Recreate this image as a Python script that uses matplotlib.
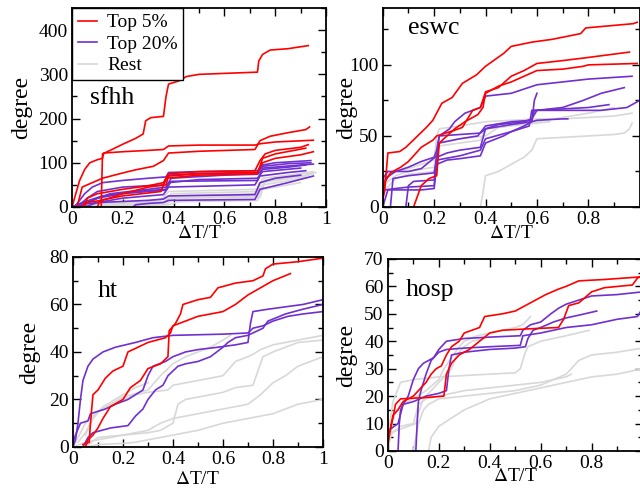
import numpy as np
import matplotlib
matplotlib.use('Agg')
import matplotlib.pyplot as plt
from matplotlib.ticker import MultipleLocator, FixedLocator, FixedFormatter

plt.rcParams['font.family'] = ['Liberation Serif', 'DejaVu Serif']
plt.rcParams['mathtext.fontset'] = 'stix'

RED = '#ff0000'
PURPLE = '#7030d0'
GRAY = '#d8d8d8'

# Daten: fiecare curba e o lista de puncte (dT/T, degree)
# ---- sfhh ----
sfhh_top5 = [
    [(0.115, 0), (0.12, 120), (0.15, 128), (0.2, 142), (0.25, 155), (0.28, 165), (0.29, 195), (0.31, 202),
     (0.36, 205), (0.37, 250), (0.38, 278), (0.42, 285), (0.45, 295), (0.5, 300), (0.73, 305), (0.735, 330),
     (0.75, 345), (0.78, 355), (0.85, 358), (0.93, 365)],
    [(0.0, 0), (0.01, 20), (0.03, 60), (0.05, 85), (0.07, 100), (0.1, 107), (0.12, 110), (0.125, 122),
     (0.2, 125), (0.3, 128), (0.36, 130), (0.38, 138), (0.5, 140), (0.72, 140), (0.74, 143), (0.8, 147),
     (0.95, 151)],
    [(0.02, 0), (0.04, 45), (0.12, 65), (0.2, 77), (0.25, 84), (0.32, 92), (0.36, 105), (0.38, 122),
     (0.5, 126), (0.72, 130), (0.74, 150), (0.78, 160), (0.85, 168), (0.92, 175), (0.935, 181)],
    [(0.05, 0), (0.06, 20), (0.1, 30), (0.2, 40), (0.3, 48), (0.36, 55), (0.38, 75), (0.5, 80), (0.72, 82),
     (0.74, 105), (0.76, 120), (0.8, 128), (0.9, 135), (0.93, 141)],
    [(0.1, 0), (0.11, 15), (0.2, 25), (0.35, 35), (0.37, 65), (0.5, 72), (0.73, 75), (0.75, 110), (0.8, 120),
     (0.92, 133)],
    [(0.04, 0), (0.05, 10), (0.12, 15), (0.2, 30), (0.3, 45), (0.37, 50), (0.38, 70), (0.5, 75), (0.73, 78),
     (0.75, 100), (0.8, 110), (0.9, 118), (0.95, 125)],
]
sfhh_top20 = [
    [(0.01, 0), (0.05, 30), (0.08, 45), (0.12, 55), (0.2, 60), (0.3, 65), (0.37, 68), (0.38, 78), (0.5, 80),
     (0.73, 82), (0.75, 95), (0.8, 100), (0.94, 105)],
    [(0.02, 0), (0.06, 20), (0.1, 35), (0.2, 45), (0.36, 50), (0.38, 72), (0.5, 76), (0.73, 78), (0.75, 92),
     (0.85, 98), (0.94, 100)],
    [(0.03, 0), (0.08, 15), (0.15, 30), (0.3, 40), (0.37, 45), (0.39, 65), (0.6, 72), (0.73, 74), (0.75, 85),
     (0.85, 90), (0.92, 95)],
    [(0.0, 0), (0.04, 10), (0.12, 25), (0.25, 35), (0.37, 40), (0.38, 55), (0.5, 62), (0.73, 65), (0.75, 80),
     (0.9, 88)],
    [(0.05, 0), (0.1, 10), (0.2, 20), (0.36, 28), (0.38, 45), (0.72, 50), (0.74, 70), (0.85, 78), (0.92, 82)],
    [(0.24, 0), (0.25, 5), (0.3, 8), (0.36, 10), (0.38, 15), (0.72, 17), (0.74, 40), (0.85, 55), (0.95, 70)],
    [(0.0, 0), (0.02, 5), (0.1, 10), (0.3, 15), (0.36, 18), (0.38, 25), (0.72, 28), (0.74, 55), (0.8, 65),
     (0.9, 72)],
    [(0.02, 0), (0.1, 20), (0.2, 30), (0.3, 35), (0.37, 38), (0.39, 58), (0.73, 60), (0.75, 88), (0.9, 95),
     (0.95, 97)],
]
sfhh_rest = [
    [(0.0, 0), (0.1, 5), (0.3, 8), (0.37, 10), (0.39, 30), (0.73, 35), (0.75, 65), (0.85, 72), (0.95, 80)],
    [(0.02, 0), (0.15, 10), (0.35, 15), (0.38, 35), (0.73, 40), (0.75, 60), (0.9, 70), (0.95, 75)],
    [(0.05, 0), (0.2, 8), (0.36, 12), (0.4, 25), (0.72, 30), (0.74, 55), (0.9, 68), (0.93, 72)],
    [(0.0, 0), (0.05, 5), (0.3, 10), (0.38, 20), (0.73, 25), (0.75, 50), (0.88, 62), (0.92, 68)],
    [(0.1, 0), (0.3, 5), (0.37, 5), (0.4, 20), (0.74, 22), (0.76, 60), (0.9, 75), (0.96, 78)],
    [(0.0, 0), (0.2, 3), (0.38, 5), (0.42, 12), (0.73, 15), (0.75, 40), (0.9, 55)],
]

# ---- eswc ----
eswc_top5 = [
    [(0.0, 5), (0.008, 12), (0.02, 38), (0.066, 39), (0.09, 42), (0.13, 49), (0.17, 56), (0.195, 61),
     (0.23, 73), (0.27, 77), (0.31, 87), (0.365, 93), (0.4, 99), (0.47, 108), (0.5, 113), (0.58, 116),
     (0.66, 118), (0.77, 122), (0.79, 126), (0.975, 129), (0.99, 130)],
    [(0.0, 10), (0.01, 18), (0.03, 24), (0.07, 28), (0.1, 32), (0.15, 42), (0.195, 47), (0.21, 50),
     (0.28, 54), (0.31, 56), (0.35, 68), (0.38, 70), (0.4, 81), (0.45, 84), (0.5, 92), (0.55, 96),
     (0.6, 101), (0.7, 103), (0.79, 105), (0.96, 109)],
    [(0.12, 0), (0.13, 5), (0.15, 15), (0.18, 20), (0.21, 22), (0.22, 45), (0.25, 50), (0.28, 55),
     (0.32, 60), (0.37, 65), (0.39, 70), (0.4, 80), (0.45, 85), (0.5, 88), (0.55, 92), (0.6, 96), (0.7, 97),
     (0.78, 99), (0.8, 100), (0.99, 101)],
]
eswc_top20 = [
    [(0.0, 5), (0.01, 20), (0.05, 25), (0.1, 28), (0.15, 32), (0.2, 35), (0.21, 40), (0.22, 50), (0.26, 55),
     (0.28, 60), (0.32, 66), (0.38, 70), (0.4, 78), (0.5, 80), (0.55, 83), (0.6, 86), (0.7, 88), (0.8, 90),
     (0.97, 92)],
    [(0.03, 0), (0.04, 20), (0.1, 22), (0.2, 24), (0.21, 35), (0.25, 38), (0.3, 40), (0.38, 42), (0.4, 55),
     (0.45, 58), (0.55, 60), (0.58, 62), (0.6, 68), (0.7, 70), (0.78, 75), (0.85, 80), (0.94, 84)],
    [(0.01, 12), (0.05, 13), (0.1, 14), (0.2, 15), (0.21, 33), (0.3, 36), (0.38, 40), (0.4, 48), (0.5, 53),
     (0.55, 57), (0.58, 60), (0.59, 75), (0.6, 80)],
    [(0.0, 0), (0.02, 12), (0.08, 12), (0.15, 12), (0.2, 13), (0.21, 30), (0.25, 33), (0.3, 34), (0.38, 36),
     (0.4, 45), (0.47, 50), (0.5, 53), (0.57, 57), (0.58, 68), (0.7, 68), (0.85, 68), (0.9, 69), (0.95, 70),
     (0.97, 72), (1.0, 75)],
    [(0.09, 0), (0.1, 15), (0.12, 18), (0.2, 19), (0.21, 35), (0.22, 45), (0.3, 48), (0.37, 50), (0.4, 57),
     (0.5, 60), (0.58, 61), (0.59, 68), (0.7, 69), (0.8, 70), (0.88, 72)],
    [(0.0, 20), (0.02, 25), (0.1, 25), (0.15, 27), (0.19, 33), (0.21, 36), (0.22, 50), (0.3, 51), (0.38, 52),
     (0.4, 55), (0.5, 58), (0.58, 60), (0.6, 61), (0.7, 62), (0.72, 62)],
]
eswc_rest = [
    [(0.0, 20), (0.05, 25), (0.1, 27), (0.15, 30), (0.2, 33), (0.21, 50), (0.22, 55), (0.3, 57), (0.4, 60),
     (0.5, 61), (0.6, 62), (0.7, 62), (0.8, 63), (0.9, 64), (0.97, 66)],
    [(0.0, 15), (0.05, 22), (0.1, 25), (0.2, 28), (0.21, 45), (0.3, 48), (0.4, 50), (0.45, 56), (0.6, 60),
     (0.7, 63), (0.8, 66), (0.9, 70)],
    [(0.38, 0), (0.39, 10), (0.4, 22), (0.45, 25), (0.5, 30), (0.55, 35), (0.58, 40), (0.6, 48), (0.7, 49),
     (0.8, 50), (0.9, 51), (0.94, 52), (0.96, 55), (0.97, 59)],
    [(0.0, 10), (0.05, 20), (0.1, 23), (0.2, 25), (0.22, 43), (0.3, 45), (0.38, 47), (0.4, 55), (0.5, 57),
     (0.6, 59), (0.65, 60)],
]

# ---- ht ----
ht_top5 = [
    [(0.04, 1), (0.065, 2), (0.07, 10), (0.08, 22), (0.1, 24), (0.13, 29), (0.16, 32), (0.2, 34), (0.22, 40),
     (0.26, 42), (0.3, 44), (0.37, 46), (0.39, 48), (0.4, 51), (0.45, 53), (0.5, 55), (0.55, 56), (0.6, 57),
     (0.65, 60), (0.7, 64), (0.75, 67), (0.8, 70), (0.87, 73)],
    [(0.05, 0), (0.06, 3), (0.08, 5), (0.1, 8), (0.12, 12), (0.15, 17), (0.2, 20), (0.23, 25), (0.27, 28),
     (0.3, 33), (0.35, 35), (0.38, 38), (0.385, 49), (0.41, 52), (0.43, 56), (0.44, 60), (0.5, 62),
     (0.55, 63), (0.58, 67), (0.65, 69), (0.72, 70), (0.76, 72), (0.77, 75), (0.8, 77), (0.9, 78),
     (1.0, 79.5)],
]
ht_top20 = [
    [(0.0, 0), (0.01, 3), (0.02, 10), (0.03, 20), (0.04, 28), (0.06, 34), (0.08, 37), (0.12, 40), (0.17, 42),
     (0.25, 44), (0.32, 46), (0.4, 47), (0.6, 47.5), (0.7, 48), (0.72, 50), (0.76, 51), (0.8, 53),
     (0.86, 55), (0.92, 56), (1.0, 57)],
    [(0.0, 2), (0.01, 5), (0.03, 10), (0.06, 11), (0.07, 14), (0.13, 16), (0.17, 18), (0.22, 20), (0.25, 22),
     (0.28, 24), (0.3, 30), (0.32, 34), (0.37, 36), (0.4, 38), (0.45, 40), (0.5, 41), (0.58, 42), (0.65, 43),
     (0.7, 44), (0.71, 52), (0.72, 57), (0.78, 58), (0.85, 59), (0.92, 60), (1.0, 62)],
    [(0.04, 0), (0.05, 2), (0.06, 4), (0.08, 6), (0.15, 8), (0.22, 9), (0.25, 13), (0.28, 16), (0.3, 20),
     (0.33, 24), (0.36, 26), (0.38, 30), (0.42, 34), (0.45, 35), (0.5, 36), (0.55, 38), (0.6, 42),
     (0.62, 44), (0.65, 46), (0.7, 47), (0.72, 48), (0.76, 50), (0.78, 53), (0.85, 56), (0.92, 58),
     (1.0, 60)],
]
ht_rest = [
    [(0.02, 2), (0.05, 6), (0.08, 12), (0.1, 15), (0.15, 18), (0.2, 21), (0.3, 24), (0.35, 30), (0.4, 35),
     (0.45, 38), (0.5, 40), (0.55, 42), (0.6, 45), (0.63, 47)],
    [(0.0, 0), (0.05, 10), (0.1, 15), (0.15, 17), (0.2, 20), (0.25, 22), (0.3, 23), (0.38, 24), (0.4, 26),
     (0.5, 28), (0.6, 30), (0.65, 36), (0.7, 38), (0.72, 39), (0.75, 41), (0.8, 43), (0.85, 44), (0.9, 45),
     (1.0, 47)],
    [(0.05, 0), (0.1, 4), (0.2, 5), (0.3, 6), (0.35, 7), (0.4, 10), (0.42, 18), (0.45, 20), (0.5, 21),
     (0.55, 22), (0.6, 23), (0.65, 25), (0.72, 26), (0.76, 38), (0.8, 40), (0.85, 42), (0.9, 44), (1.0, 45)],
    [(0.0, 0), (0.05, 2), (0.1, 3), (0.2, 5), (0.3, 7), (0.35, 10), (0.4, 12), (0.5, 14), (0.6, 16),
     (0.7, 18), (0.75, 22), (0.8, 27), (0.85, 30), (0.9, 34), (0.95, 36), (1.0, 38)],
    [(0.05, 0), (0.1, 1), (0.2, 1.5), (0.25, 2), (0.3, 3), (0.35, 4), (0.4, 5), (0.5, 7), (0.6, 10),
     (0.7, 12), (0.8, 14), (0.85, 16), (0.9, 18), (0.95, 19), (1.0, 20)],
    [(0.05, 5), (0.08, 12), (0.12, 17), (0.2, 22), (0.25, 25), (0.3, 27)],
]

# ---- hosp ----
hosp_top5 = [
    [(0.0, 5), (0.01, 8), (0.02, 13), (0.04, 15), (0.06, 18), (0.1, 20), (0.12, 22), (0.15, 25), (0.17, 28),
     (0.19, 30), (0.21, 31), (0.23, 35), (0.25, 38), (0.28, 40), (0.3, 43), (0.33, 44), (0.36, 45),
     (0.38, 49), (0.45, 50), (0.5, 51), (0.54, 53), (0.58, 55), (0.62, 57), (0.67, 59), (0.7, 60),
     (0.75, 62), (0.85, 62.5), (1.0, 63.5)],
    [(0.0, 2), (0.01, 8), (0.02, 12), (0.03, 17), (0.05, 19), (0.15, 19.5), (0.22, 20), (0.23, 28),
     (0.25, 32), (0.28, 35), (0.32, 37), (0.36, 40), (0.4, 43), (0.45, 44), (0.55, 44.5), (0.67, 45),
     (0.69, 48), (0.71, 53), (0.75, 54), (0.8, 58), (0.85, 59.5), (0.96, 60.5), (0.98, 63), (1.0, 64)],
]
hosp_top20 = [
    [(0.0, 5), (0.01, 8), (0.04, 10), (0.06, 17), (0.08, 20), (0.1, 26), (0.12, 30), (0.14, 32), (0.18, 34),
     (0.2, 37), (0.23, 40), (0.3, 41), (0.4, 41.5), (0.52, 42), (0.53, 44), (0.56, 46), (0.6, 47),
     (0.64, 50), (0.67, 52), (0.7, 53.5), (0.75, 55), (0.8, 56.5), (0.9, 57), (1.0, 58)],
    [(0.04, 0), (0.045, 10), (0.05, 15), (0.06, 17), (0.1, 18), (0.15, 20), (0.2, 21), (0.23, 22),
     (0.24, 30), (0.25, 35), (0.3, 36), (0.4, 37), (0.5, 37.5), (0.54, 38), (0.55, 41), (0.57, 44),
     (0.6, 45), (0.65, 47), (0.7, 48.5), (0.75, 49.5), (0.82, 51)],
    [(0.11, 0), (0.115, 10), (0.12, 18), (0.13, 22), (0.15, 28), (0.17, 33), (0.2, 36), (0.23, 37),
     (0.3, 37.5), (0.4, 38), (0.52, 38.5), (0.53, 42), (0.6, 43), (0.65, 44), (0.7, 45), (0.8, 46),
     (0.9, 48), (0.98, 49), (1.0, 52)],
]
hosp_rest = [
    [(0.0, 2), (0.01, 5), (0.02, 12), (0.05, 17), (0.1, 19), (0.15, 22), (0.2, 26), (0.22, 30), (0.25, 34),
     (0.28, 38), (0.3, 40), (0.35, 42), (0.4, 43), (0.45, 44), (0.5, 45), (0.53, 46), (0.56, 49)],
    [(0.0, 5), (0.02, 18), (0.05, 25), (0.1, 26), (0.2, 27), (0.3, 27.5), (0.4, 28), (0.5, 28.5),
     (0.52, 30), (0.53, 33), (0.54, 36), (0.55, 38), (0.6, 40), (0.7, 42), (0.79, 44)],
    [(0.1, 0), (0.11, 5), (0.12, 10), (0.14, 15), (0.16, 17), (0.2, 19), (0.3, 20), (0.4, 21), (0.5, 22),
     (0.6, 24), (0.65, 26), (0.7, 28), (0.72, 30), (0.75, 33), (0.8, 35), (0.9, 36), (1.0, 37.5)],
    [(0.16, 0), (0.17, 5), (0.2, 9), (0.25, 12), (0.3, 15), (0.35, 17), (0.4, 19), (0.5, 21), (0.6, 23),
     (0.7, 25), (0.75, 26), (0.8, 27), (0.9, 28), (1.0, 30)],
    [(0.0, 0), (0.01, 6), (0.05, 9), (0.1, 10), (0.12, 17), (0.15, 19), (0.2, 20), (0.3, 22), (0.4, 23),
     (0.5, 24), (0.6, 25), (0.7, 27), (0.72, 28)],
    [(0.0, 3), (0.02, 7), (0.05, 8), (0.08, 9), (0.11, 10), (0.12, 14), (0.14, 19), (0.18, 23), (0.22, 27),
     (0.25, 30), (0.27, 35), (0.3, 38), (0.33, 40), (0.38, 41)],
]

panel_names = ['sfhh', 'eswc', 'ht', 'hosp']
x_ticks = [0, 0.2, 0.4, 0.6, 0.8, 1.0]
x_ticklabels = ['0', '0.2', '0.4', '0.6', '0.8', '1']
# panourile din dreapta sunt taiate la marginea imaginii: fara eticheta "1"
x_ticklabels_right = ['0', '0.2', '0.4', '0.6', '0.8', '']

# Configurare panouri: (pozitie axe, ylim, pas major, pas minor, eticheta, pozitie eticheta)
panels = [
    dict(rect=[0.1125, 0.5776, 0.397, 0.406], ylim=450, major=100, minor=50, xtl=x_ticklabels,
         data=(sfhh_rest, sfhh_top20, sfhh_top5), name_xy=(0.07, 0.55), ylab_x=-0.155, xlab_y=-0.09),
    dict(rect=[0.598, 0.5776, 0.4016, 0.406], ylim=140, major=50, minor=25, xtl=x_ticklabels_right,
         data=(eswc_rest, eswc_top20, eswc_top5), name_xy=(0.1, 0.9), ylab_x=-0.10, xlab_y=-0.09),
    dict(rect=[0.114, 0.0878, 0.3906, 0.3878], ylim=80, major=20, minor=10, xtl=x_ticklabels,
         data=(ht_rest, ht_top20, ht_top5), name_xy=(0.1, 0.82), ylab_x=-0.132, xlab_y=-0.125),
    dict(rect=[0.606, 0.0796, 0.398, 0.392], ylim=70, major=10, minor=5, xtl=x_ticklabels_right,
         data=(hosp_rest, hosp_top20, hosp_top5), name_xy=(0.07, 0.84), ylab_x=-0.12, xlab_y=-0.09),
]

fig = plt.figure(figsize=(6.4, 4.9), dpi=100)

for i, p in enumerate(panels):
    ax = fig.add_axes(p['rect'])
    rest, top20, top5 = p['data']
    for c in rest:
        xs, ys = zip(*c)
        ax.plot(xs, ys, color=GRAY, lw=1.2)
    for c in top20:
        xs, ys = zip(*c)
        ax.plot(xs, ys, color=PURPLE, lw=1.2)
    for c in top5:
        xs, ys = zip(*c)
        ax.plot(xs, ys, color=RED, lw=1.2)

    ax.set_xlim(0, 1)
    ax.set_ylim(0, p['ylim'])
    ax.xaxis.set_major_locator(FixedLocator(x_ticks))
    ax.xaxis.set_major_formatter(FixedFormatter(p['xtl']))
    ax.xaxis.set_minor_locator(MultipleLocator(0.1))
    ax.yaxis.set_major_locator(MultipleLocator(p['major']))
    ax.yaxis.set_minor_locator(MultipleLocator(p['minor']))
    ax.tick_params(which='both', direction='in', top=True, right=True, labelsize=14, width=1.0, pad=3)
    ax.tick_params(which='major', length=6)
    ax.tick_params(which='minor', length=3.5)
    for s in ax.spines.values():
        s.set_linewidth(1.3)

    ax.set_xlabel(r'$\Delta$T/T', fontsize=14)
    ax.xaxis.set_label_coords(0.5, p['xlab_y'])
    ax.set_ylabel('degree', fontsize=17)
    ax.yaxis.set_label_coords(p['ylab_x'], 0.5)
    ax.text(p['name_xy'][0], p['name_xy'][1], panel_names[i], transform=ax.transAxes,
            fontsize=18.5, ha='left', va='center')

    if i == 0:
        h1, = ax.plot([], [], color=RED, lw=1.2, label='Top 5%')
        h2, = ax.plot([], [], color=PURPLE, lw=1.2, label='Top 20%')
        h3, = ax.plot([], [], color=GRAY, lw=1.2, label='Rest')
        leg = ax.legend(handles=[h1, h2, h3], loc='upper left', bbox_to_anchor=(0, 1),
                        borderaxespad=0, fontsize=14, fancybox=False, framealpha=1,
                        edgecolor='black', handlelength=1.0, handletextpad=0.5,
                        labelspacing=0.2, borderpad=0.3)
        leg.get_frame().set_linewidth(1.0)

fig.savefig('out.png', dpi=100)
